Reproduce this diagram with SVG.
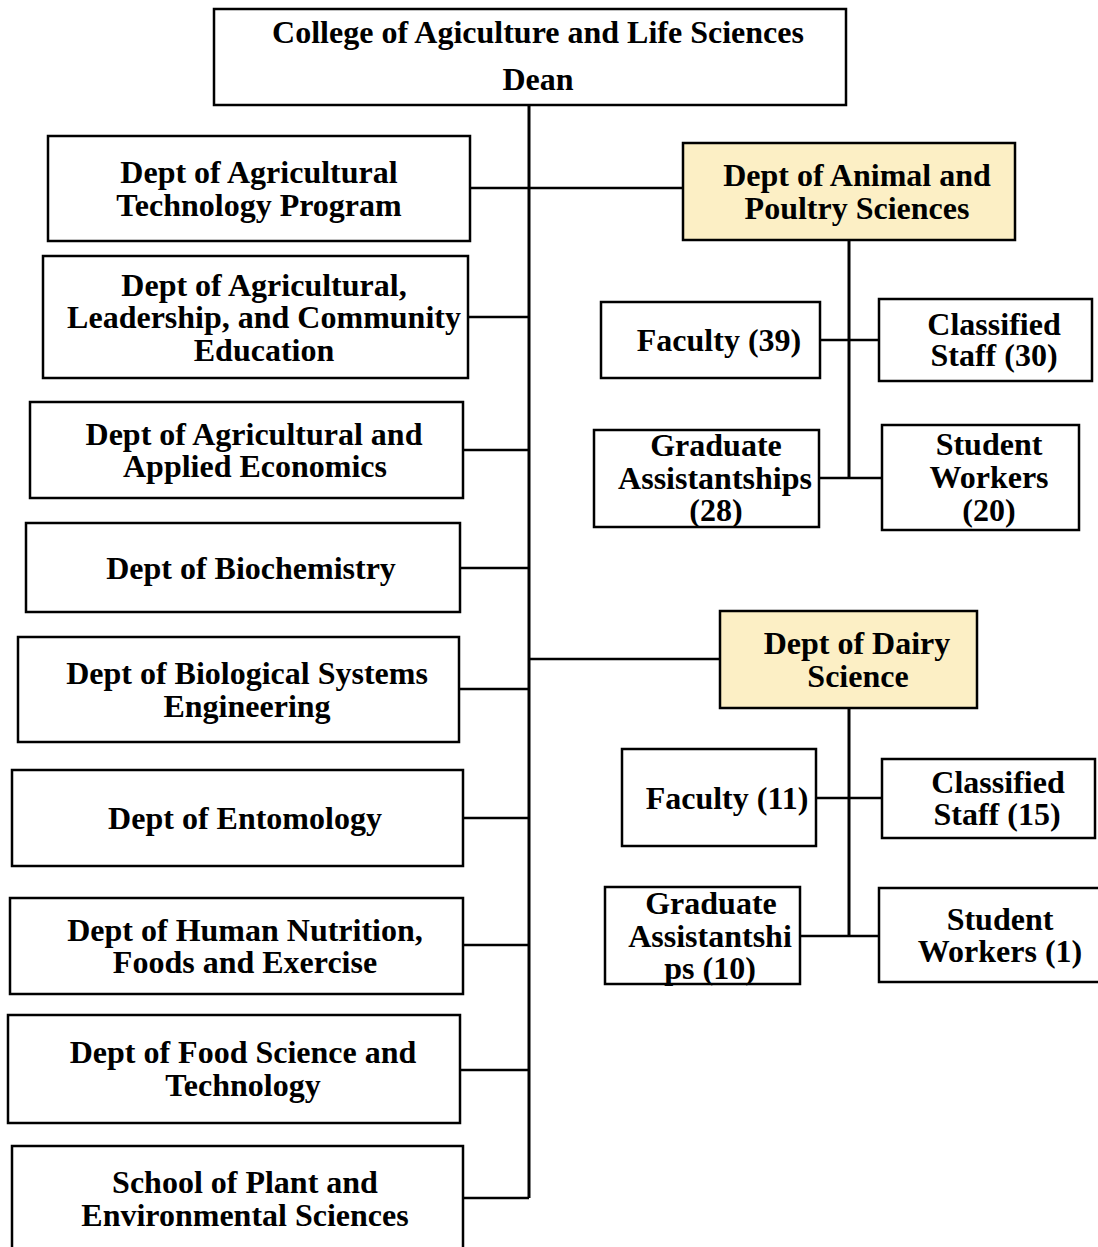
<svg xmlns="http://www.w3.org/2000/svg" width="1098" height="1247" viewBox="0 0 1098 1247">
<style>
.b{fill:#fff;stroke:#000;stroke-width:2.5}
.y{fill:#FCEFC5;stroke:#000;stroke-width:2.5}
text{font-family:"Liberation Serif","Times New Roman",serif;font-weight:bold;font-size:32px;text-anchor:middle;fill:#000}
.c{stroke:#000;stroke-width:2.5;fill:none}
.t{stroke:#000;stroke-width:3;fill:none}
</style>
<rect width="1098" height="1247" fill="#fff"/>
<g id="connectors">
<path class="t" d="M529,105 V1198"/>
<path class="c" d="M470,188 H683 M468,317 H529 M463,450 H529 M460,568 H529 M459,689 H529 M463,818 H529 M463,945 H529 M460,1070 H529 M463,1198 H529 M529,659 H720"/>
<path class="t" d="M849,240 V478 M849,708 V936"/>
<path class="c" d="M820,340 H879 M819,478 H882 M816,798 H882 M800,936 H879"/>
</g>
<g id="dean"><rect class="b" x="214" y="9" width="632" height="96"/><text x="538" y="43">College of Agiculture and Life Sciences</text><text x="538" y="90">Dean</text></g>
<g id="agtech"><rect class="b" x="48" y="136" width="422" height="105"/><text x="259" y="183">Dept of Agricultural</text><text x="259" y="216">Technology Program</text></g>
<g id="alce"><rect class="b" x="43" y="256" width="425" height="122"/><text x="264" y="296">Dept of Agricultural,</text><text x="264" y="328">Leadership, and Community</text><text x="264" y="361">Education</text></g>
<g id="aae"><rect class="b" x="30" y="402" width="433" height="96"/><text x="254" y="445">Dept of Agricultural and</text><text x="255" y="477">Applied Economics</text></g>
<g id="biochem"><rect class="b" x="26" y="523" width="434" height="89"/><text x="251" y="579">Dept of Biochemistry</text></g>
<g id="bse"><rect class="b" x="18" y="637" width="441" height="105"/><text x="247" y="684">Dept of Biological Systems</text><text x="247" y="717">Engineering</text></g>
<g id="ento"><rect class="b" x="12" y="770" width="451" height="96"/><text x="245" y="829">Dept of Entomology</text></g>
<g id="hnfe"><rect class="b" x="10" y="898" width="453" height="96"/><text x="245" y="941">Dept of Human Nutrition,</text><text x="245" y="973">Foods and Exercise</text></g>
<g id="fst"><rect class="b" x="8" y="1015" width="452" height="108"/><text x="243" y="1063">Dept of Food Science and</text><text x="243" y="1096">Technology</text></g>
<g id="spes"><rect class="b" x="12" y="1146" width="451" height="110"/><text x="245" y="1193">School of Plant and</text><text x="245" y="1226">Environmental Sciences</text></g>
<g id="aps"><rect class="y" x="683" y="143" width="332" height="97"/><text x="857" y="186">Dept of Animal and</text><text x="857" y="219">Poultry Sciences</text></g>
<g id="aps-fac"><rect class="b" x="601" y="302" width="219" height="76"/><text x="719" y="351">Faculty (39)</text></g>
<g id="aps-cs"><rect class="b" x="879" y="299" width="213" height="82"/><text x="994" y="335">Classified</text><text x="994" y="366">Staff (30)</text></g>
<g id="aps-ga"><rect class="b" x="594" y="430" width="225" height="97"/><text x="716" y="456">Graduate</text><text x="715" y="489">Assistantships</text><text x="716" y="521">(28)</text></g>
<g id="aps-sw"><rect class="b" x="882" y="425" width="197" height="105"/><text x="989" y="455">Student</text><text x="989" y="488">Workers</text><text x="989" y="521">(20)</text></g>
<g id="dairy"><rect class="y" x="720" y="611" width="257" height="97"/><text x="857" y="654">Dept of Dairy</text><text x="858" y="687">Science</text></g>
<g id="ds-fac"><rect class="b" x="622" y="749" width="194" height="97"/><text x="727" y="809">Faculty (11)</text></g>
<g id="ds-cs"><rect class="b" x="882" y="759" width="213" height="79"/><text x="998" y="793">Classified</text><text x="997" y="825">Staff (15)</text></g>
<g id="ds-ga"><rect class="b" x="605" y="887" width="195" height="97"/><text x="711" y="914">Graduate</text><text x="710" y="947">Assistantshi</text><text x="710" y="979">ps (10)</text></g>
<g id="ds-sw"><rect class="b" x="879" y="888" width="222" height="94"/><text x="1000" y="930">Student</text><text x="1000" y="962">Workers (1)</text></g>
</svg>
